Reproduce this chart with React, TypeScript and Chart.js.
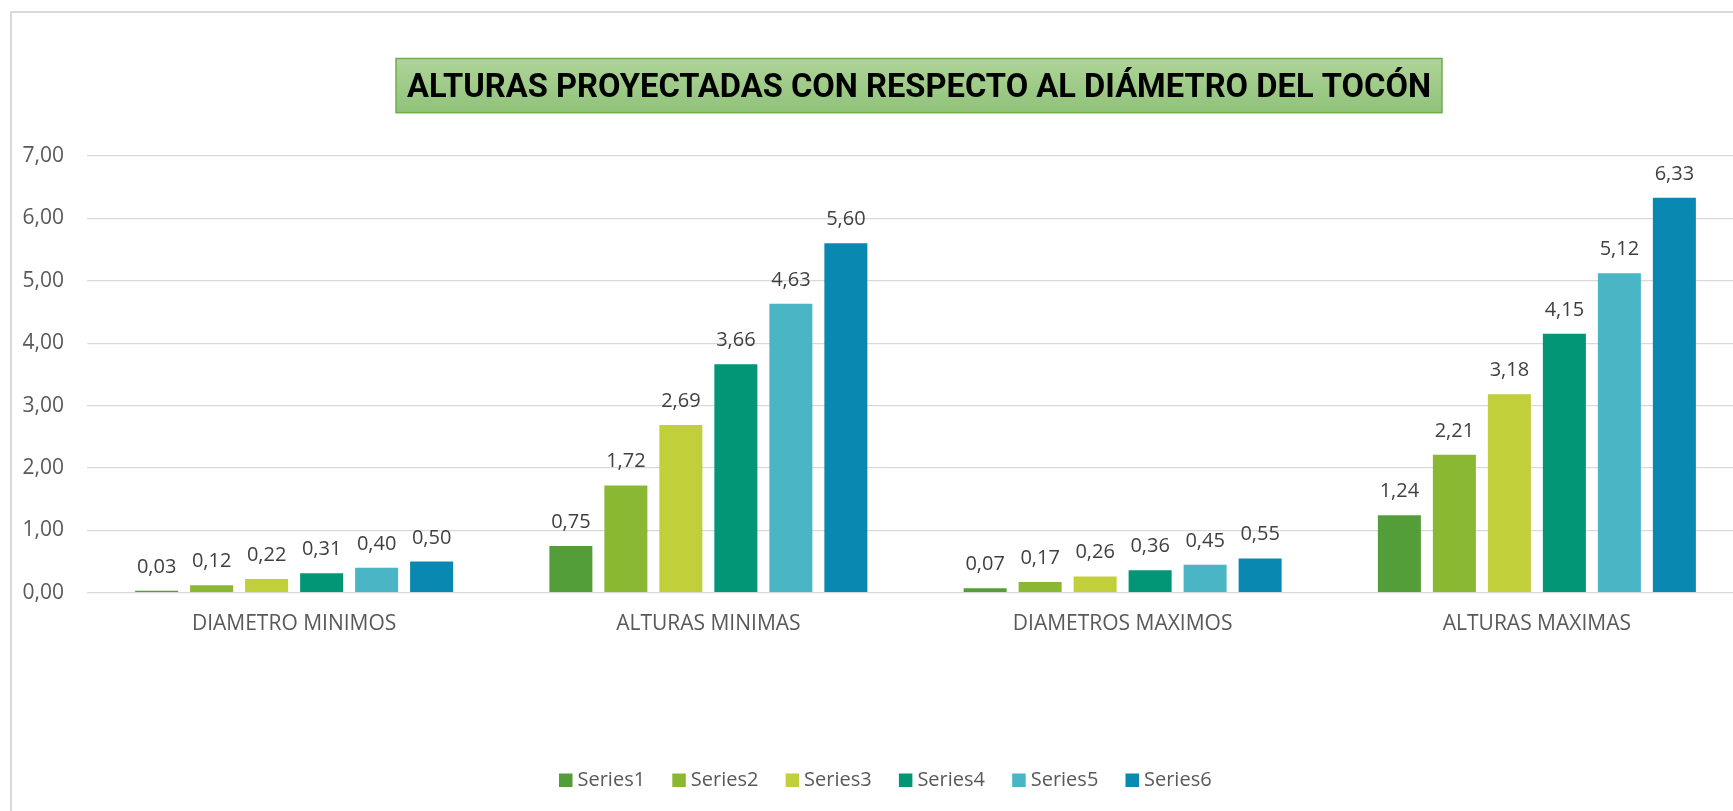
import React, { useEffect, useRef } from 'react';
import { Chart, registerables } from 'chart.js';

Chart.register(...registerables);

const categories = ['DIAMETRO MINIMOS', 'ALTURAS MINIMAS', 'DIAMETROS MAXIMOS', 'ALTURAS MAXIMAS'];
const seriesNames = ['Series1', 'Series2', 'Series3', 'Series4', 'Series5', 'Series6'];
const series1 = [0.03, 0.75, 0.07, 1.24];
const series2 = [0.12, 1.72, 0.17, 2.21];
const series3 = [0.22, 2.69, 0.26, 3.18];
const series4 = [0.31, 3.66, 0.36, 4.15];
const series5 = [0.4, 4.63, 0.45, 5.12];
const series6 = [0.5, 5.6, 0.55, 6.33];
const yTickValues = [0, 1, 2, 3, 4, 5, 6, 7];
const titleText = 'ALTURAS PROYECTADAS CON RESPECTO AL DIÁMETRO DEL TOCÓN';
const seriesColors = ['#549E39', '#8AB833', '#C0CF3A', '#029676', '#4AB5C4', '#0989B1'];

const allSeries = [series1, series2, series3, series4, series5, series6];

const fmt = (v: number) => v.toFixed(2).replace('.', ',');

const CANVAS_W = 1760;
const CANVAS_H = 800;

const decorPlugin = {
  id: 'decor',
  afterDatasetsDraw(chart: any) {
    const ctx = chart.ctx;
    ctx.save();
    ctx.font = '20px "Open Sans"';
    ctx.fillStyle = '#404040';
    ctx.textAlign = 'center';
    ctx.textBaseline = 'alphabetic';
    chart.data.datasets.forEach((ds: any, i: number) => {
      const meta = chart.getDatasetMeta(i);
      meta.data.forEach((el: any, j: number) => {
        ctx.fillText(fmt(ds.data[j]), el.x, el.y - 18);
      });
    });
    ctx.restore();
  },
  afterDraw(chart: any) {
    const ctx = chart.ctx;
    // Title box
    ctx.save();
    const bx0 = 384, bx1 = 1430, by0 = 45.5, by1 = 99.7;
    const grad = ctx.createLinearGradient(0, by0, 0, by1);
    grad.addColorStop(0, '#afd498');
    grad.addColorStop(1, '#90c27a');
    ctx.fillStyle = grad;
    ctx.fillRect(bx0, by0, bx1 - bx0, by1 - by0);
    ctx.strokeStyle = '#6fae4c';
    ctx.lineWidth = 1.5;
    ctx.strokeRect(bx0, by0, bx1 - bx0, by1 - by0);
    ctx.font = 'bold 33px Roboto';
    ctx.fillStyle = '#000000';
    ctx.textAlign = 'center';
    ctx.textBaseline = 'alphabetic';
    const w = ctx.measureText(titleText).width;
    const target = 1024;
    const sx = target / w;
    ctx.translate((bx0 + bx1) / 2, 84);
    ctx.scale(sx, 1);
    ctx.fillText(titleText, 0, 0);
    ctx.restore();

    // Legend
    ctx.save();
    ctx.font = '20px "Open Sans"';
    ctx.textAlign = 'left';
    ctx.textBaseline = 'middle';
    const lx = 547, step = 113.3, ly = 760.5, box = 13.5;
    seriesNames.forEach((name, i) => {
      const x = lx + i * step;
      ctx.fillStyle = seriesColors[i];
      ctx.fillRect(x, ly, box, box);
      ctx.fillStyle = '#595959';
      ctx.fillText(name, x + box + 5, ly + box / 2 + 0.5);
    });
    ctx.restore();
  },
};

export default function App() {
  const ref = useRef<HTMLCanvasElement | null>(null);

  useEffect(() => {
    if (!ref.current) return;
    const chart = new Chart(ref.current, {
      type: 'bar',
      data: {
        labels: categories,
        datasets: allSeries.map((data, i) => ({
          label: seriesNames[i],
          data,
          backgroundColor: seriesColors[i],
          borderWidth: 0,
          categoryPercentage: 0.7966,
          barPercentage: 0.782,
        })),
      },
      options: {
        responsive: false,
        maintainAspectRatio: false,
        animation: false,
        devicePixelRatio: 1,
        layout: { padding: { top: 143, left: 0, right: 28, bottom: 0 } },
        plugins: {
          legend: { display: false },
          title: { display: false },
          tooltip: { enabled: false },
        },
        scales: {
          x: {
            grid: { display: false, drawTicks: false },
            border: { display: false },
            ticks: {
              font: { family: 'Open Sans', size: 21 },
              color: '#595959',
              padding: 19,
              maxRotation: 0,
              autoSkip: false,
            },
            afterFit(scale: any) {
              scale.height = CANVAS_H - 579.7;
            },
          },
          y: {
            min: 0,
            max: 7,
            afterBuildTicks(scale: any) {
              scale.ticks = yTickValues.map((v) => ({ value: v }));
            },
            grid: { color: '#d9d9d9', lineWidth: 1.3, drawTicks: false },
            border: { display: false },
            ticks: {
              font: { family: 'Open Sans', size: 21 },
              color: '#595959',
              padding: 23,
              callback: (v: any) => fmt(Number(v)),
            },
            afterFit(scale: any) {
              scale.width = 75;
            },
          },
        },
      },
      plugins: [decorPlugin],
    });
    return () => chart.destroy();
  }, []);

  return (
    <div
      style={{
        position: 'fixed',
        left: 0,
        top: 0,
        width: '1733px',
        height: '811px',
        overflow: 'hidden',
        background: '#ffffff',
      }}
    >
      <div
        style={{
          position: 'absolute',
          left: '10px',
          top: '11px',
          borderLeft: '2px solid #d9d9d9',
          borderTop: '2px solid #d9d9d9',
          width: `${CANVAS_W}px`,
          height: `${CANVAS_H + 20}px`,
          background: '#ffffff',
        }}
      >
        <canvas
          ref={ref}
          width={CANVAS_W}
          height={CANVAS_H}
          style={{ display: 'block', width: `${CANVAS_W}px`, height: `${CANVAS_H}px` }}
        />
      </div>
    </div>
  );
}
